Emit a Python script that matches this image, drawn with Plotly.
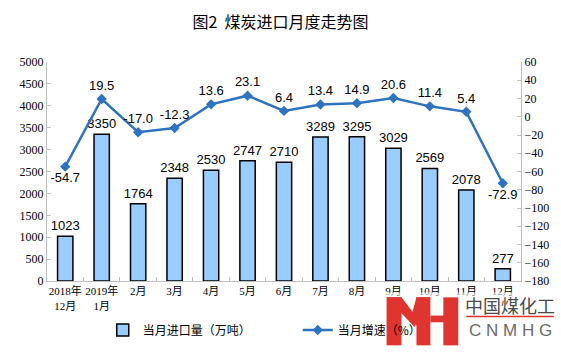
import plotly.graph_objects as go

months = ["2018年<br>12月", "2019年<br>1月", "2月", "3月", "4月", "5月", "6月",
          "7月", "8月", "9月", "10月", "11月", "12月"]
imports = [1023, 3350, 1764, 2348, 2530, 2747, 2710, 3289, 3295, 3029, 2569, 2078, 277]
growth = [-54.7, 19.5, -17.0, -12.3, 13.6, 23.1, 6.4, 13.4, 14.9, 20.6, 11.4, 5.4, -72.9]
growth_pos = ["bottom center", "top center", "top center", "top center", "top center",
              "top center", "top center", "top center", "top center", "top center",
              "top center", "top center", "bottom center"]

W, H = 561, 357
L, R, T, B = 47, 523, 62, 290


def px(x):
    return (x - L) / (R - L)


def py(y):
    return (B - y) / (B - T)


fig = go.Figure()
fig.add_trace(go.Bar(
    x=months, y=imports, name="当月进口量（万吨）",
    marker=dict(color="#99CCFF", line=dict(color="#000000", width=1.5)),
    width=0.42,
    text=[str(v) for v in imports], textposition="outside", cliponaxis=False,
    constraintext="none",
    textfont=dict(family="Liberation Sans, Arial", size=13, color="#000000"),
    yaxis="y",
))
fig.add_trace(go.Scatter(
    x=months, y=growth, name="当月增速（%）", mode="lines+markers+text",
    line=dict(color="#2E72C0", width=2.5),
    marker=dict(symbol="diamond", size=8, color="#2E72C0"),
    text=[f"{v:.1f}" for v in growth], textposition=growth_pos, cliponaxis=False,
    textfont=dict(family="Liberation Sans, Arial", size=13, color="#000000"),
    yaxis="y2",
))

shapes = []
red = "#E0342F"


def poly(pts):
    s = "M " + " L ".join(f"{px(a):.5f},{py(b):.5f}" for a, b in pts) + " Z"
    return dict(type="path", xref="paper", yref="paper", path=s,
                fillcolor=red, line=dict(width=0), layer="above")


# watermark logo
shapes.append(dict(type="rect", xref="paper", yref="paper", x0=px(382), x1=px(561),
                   y0=py(302), y1=py(357), fillcolor="rgba(255,255,255,0.6)",
                   line=dict(width=0), layer="above"))
shapes.append(poly([(388, 307), (403, 307), (403, 357), (388, 357)]))
shapes.append(poly([(388, 307), (403, 307), (420, 330), (416, 338)]))
shapes.append(poly([(432, 307), (418, 307), (412, 330), (420, 338)]))
shapes.append(poly([(418, 307), (432, 307), (432, 357), (418, 357)]))
shapes.append(poly([(432, 326), (446, 326), (446, 333), (432, 333)]))
shapes.append(poly([(445, 307), (460, 307), (460, 357), (445, 357)]))
shapes.append(dict(type="line", xref="paper", yref="paper", x0=px(468), x1=px(556),
                   y0=py(327), y1=py(327), line=dict(color=red, width=1.5), layer="above"))

annotations = [
    dict(text="中国煤化工", xref="paper", yref="paper", x=px(512), y=py(315),
         showarrow=False, font=dict(family="Noto Sans CJK SC", size=18, color="#4a4a4a"),
         xanchor="center", yanchor="middle"),
    dict(text="C N M H G", xref="paper", yref="paper", x=px(512), y=py(342),
         showarrow=False, font=dict(family="Liberation Sans", size=17, color="#6a6a6a"),
         xanchor="center", yanchor="middle"),
]

fig.update_layout(
    width=W, height=H,
    margin=dict(l=L, r=W - R, t=T, b=H - B),
    paper_bgcolor="white", plot_bgcolor="white",
    title=dict(text="图2  煤炭进口月度走势图", x=0.5, xanchor="center", y=1 - 22 / H,
               yanchor="middle",
               font=dict(family="Noto Sans CJK SC", size=16, color="#000000")),
    showlegend=True,
    legend=dict(orientation="h", x=px(103), y=py(341), xanchor="left", yanchor="middle",
                entrywidth=150, entrywidthmode="pixels",
                font=dict(family="Noto Sans CJK SC", size=12, color="#000000"),
                bgcolor="rgba(0,0,0,0)"),
    xaxis=dict(type="category", showline=True, linecolor="#BFBFBF", linewidth=1,
               ticks="inside", tickson="boundaries", ticklen=4, tickcolor="#BFBFBF",
               tickangle=0,
               tickfont=dict(family="Liberation Serif, Noto Sans CJK SC", size=11,
                             color="#000000"),
               showgrid=False, range=[-0.5, 12.5]),
    yaxis=dict(range=[0, 5000], dtick=500, showline=True, linecolor="#BFBFBF",
               ticks="inside", ticklen=4, tickcolor="#BFBFBF", showgrid=False,
               zeroline=False,
               tickfont=dict(family="Liberation Serif", size=12, color="#000000")),
    yaxis2=dict(range=[-180, 60], dtick=20, overlaying="y", side="right",
                showline=True, linecolor="#BFBFBF", ticks="inside", ticklen=4,
                tickcolor="#BFBFBF", showgrid=False, zeroline=False,
                tickfont=dict(family="Liberation Serif", size=12, color="#000000")),
    shapes=shapes, annotations=annotations, bargap=0.5,
)

fig.write_html("out.html")
